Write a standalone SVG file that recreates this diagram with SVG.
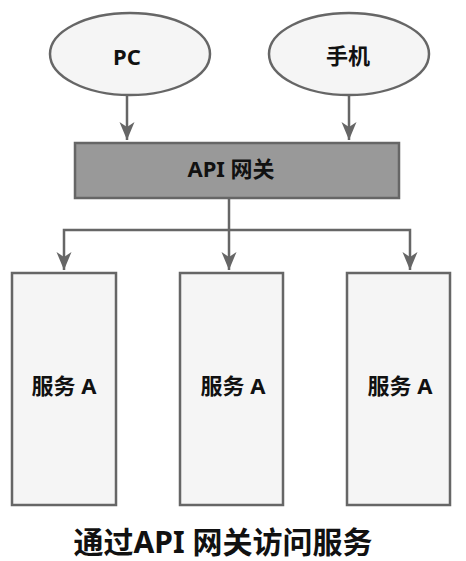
<svg xmlns="http://www.w3.org/2000/svg" width="466" height="561" viewBox="0 0 466 561">
<style>
.lt{fill:#f5f5f5;stroke:#666;stroke-width:2.5}
.gw{fill:#999;stroke:#666;stroke-width:2.5}
.lbl{font-family:"Noto Sans","Noto Sans CJK SC",sans-serif;font-weight:bold;font-size:22px;fill:#111;text-anchor:middle}
.ttl{font-family:"Noto Sans","Noto Sans CJK SC",sans-serif;font-weight:bold;font-size:30px;fill:#111;text-anchor:middle}
.cn{fill:none;stroke:#666;stroke-width:2.5}
</style>
<defs>
<marker id="ah" markerUnits="userSpaceOnUse" markerWidth="22" markerHeight="16" refX="20" refY="8" orient="auto" viewBox="0 0 22 16">
<path d="M20,8 L2,0.5 L7,8 L2,15.5 Z" fill="#666"/>
</marker>
</defs>
<rect width="466" height="561" fill="#fff"/>
<g id="connectors">
<path class="cn" d="M127,95 V140" marker-end="url(#ah)"/>
<path class="cn" d="M349,95 V140" marker-end="url(#ah)"/>
<path class="cn" d="M229,198 V270" marker-end="url(#ah)"/>
<path class="cn" d="M229,230 H64 V270" marker-end="url(#ah)"/>
<path class="cn" d="M229,230 H410 V270" marker-end="url(#ah)"/>
</g>
<g id="pc">
<ellipse class="lt" cx="130" cy="54" rx="80" ry="41"/>
<text class="lbl" x="127" y="65">PC</text>
</g>
<g id="mobile">
<ellipse class="lt" cx="349" cy="54" rx="80" ry="41"/>
<text class="lbl" x="348" y="64">手机</text>
</g>
<g id="gateway">
<rect class="gw" x="75" y="143" width="324" height="55"/>
<text class="lbl" x="231" y="177">API 网关</text>
</g>
<g id="service1">
<rect class="lt" x="12" y="273" width="104" height="232"/>
<text class="lbl" x="64" y="394">服务 A</text>
</g>
<g id="service2">
<rect class="lt" x="180" y="273" width="103" height="232"/>
<text class="lbl" x="233" y="394">服务 A</text>
</g>
<g id="service3">
<rect class="lt" x="347" y="273" width="103" height="232"/>
<text class="lbl" x="400" y="394">服务 A</text>
</g>
<g id="title">
<text class="ttl" x="223" y="553">通过API 网关访问服务</text>
</g>
</svg>
